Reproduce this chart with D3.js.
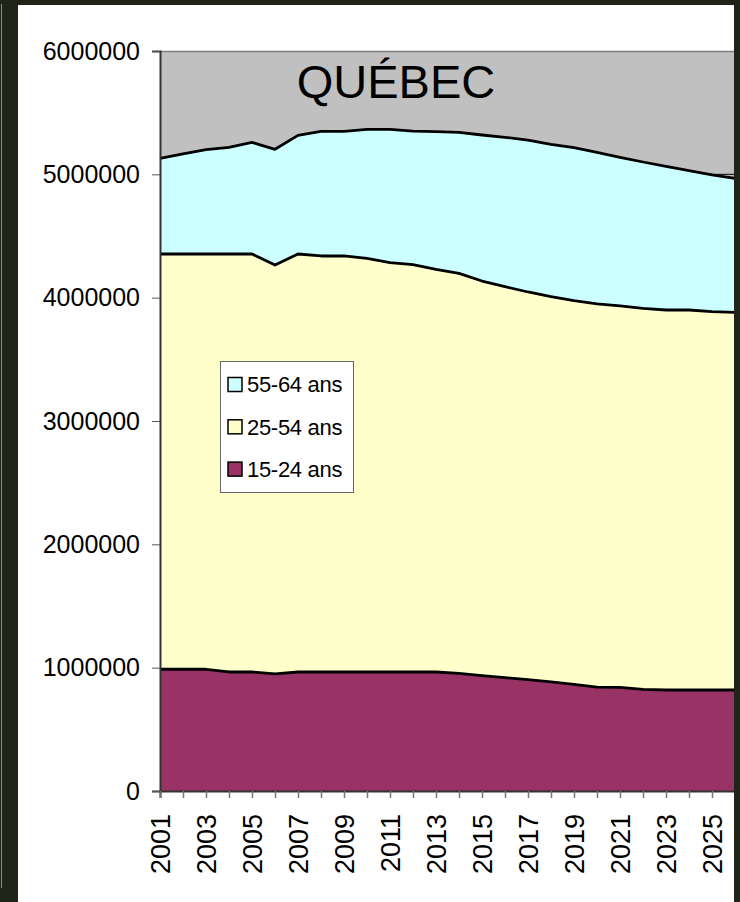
<!DOCTYPE html>
<html lang="fr">
<head>
<meta charset="utf-8">
<style>

body {
  margin: 0;
  background: #202419;
  font-family: Arial, "Liberation Sans", Helvetica, sans-serif;
}

svg {
  display: block;
}

.axis text {
  font-family: Arial, "Liberation Sans", sans-serif;
  fill: #000;
}

</style>
</head>
<body>
<script src="https://cdn.jsdelivr.net/npm/d3@7"></script>
<script>

var years = [2001, 2002, 2003, 2004, 2005, 2006, 2007, 2008, 2009, 2010, 2011, 2012, 2013,
             2014, 2015, 2016, 2017, 2018, 2019, 2020, 2021, 2022, 2023, 2024, 2025, 2026];

// 15-24 ans
var ans15_24 = [987000, 987000, 987000, 965000, 965000, 949000, 965000, 965000, 965000, 965000,
                965000, 965000, 965000, 954000, 935000, 919000, 903000, 884000, 865000, 843000,
                841000, 824000, 819000, 819000, 819000, 819000];

// 25-54 ans
var ans25_54 = [3367000, 3367000, 3367000, 3389000, 3389000, 3316000, 3389000, 3373000, 3373000, 3354000,
                3319000, 3303000, 3265000, 3243000, 3200000, 3170000, 3143000, 3124000, 3111000, 3106000,
                3092000, 3090000, 3081000, 3081000, 3068000, 3062000];

// 55-64 ans
var ans55_64 = [776000, 811000, 846000, 865000, 905000, 938000, 962000, 1011000, 1011000, 1046000,
                1081000, 1083000, 1116000, 1144000, 1184000, 1211000, 1232000, 1235000, 1240000, 1229000,
                1205000, 1186000, 1165000, 1130000, 1108000, 1087000];

var seriesNames = ["15-24 ans", "25-54 ans", "55-64 ans"];
var seriesColors = ["#993366", "#ffffcc", "#ccffff"];
var yTicks = [0, 1000000, 2000000, 3000000, 4000000, 5000000, 6000000];
var xLabels = [2001, 2003, 2005, 2007, 2009, 2011, 2013, 2015, 2017, 2019, 2021, 2023, 2025];

var width = 740,
    height = 902;

var plotLeft = 160, plotRight = 735, plotTop = 51, plotBottom = 791;

var table = years.map(function(y, i) {
    return {year: y, "15-24 ans": ans15_24[i], "25-54 ans": ans25_54[i], "55-64 ans": ans55_64[i]};
});

var x = d3.scaleLinear()
    .domain([years[0], years[years.length - 1]])
    .range([plotLeft, plotRight]);

var y = d3.scaleLinear()
    .domain([0, 6000000])
    .range([plotBottom, plotTop]);

var color = d3.scaleOrdinal()
    .domain(seriesNames)
    .range(seriesColors);

var stack = d3.stack().keys(seriesNames);
var layers = stack(table);

var svg = d3.select("body").append("svg")
    .attr("width", width)
    .attr("height", height);

// dark photo background + white panel
svg.append("rect")
    .attr("width", width).attr("height", height)
    .attr("fill", "#202419");
svg.append("line")
    .attr("x1", 1.5).attr("x2", 1.5).attr("y1", 4).attr("y2", 888)
    .attr("stroke", "#8a8a8a").attr("stroke-width", 1);
svg.append("rect")
    .attr("x", 18).attr("y", 5)
    .attr("width", 716).attr("height", height)
    .attr("fill", "#fff");

// plot background
svg.append("rect")
    .attr("x", plotLeft).attr("y", plotTop)
    .attr("width", plotRight - plotLeft).attr("height", plotBottom - plotTop)
    .attr("fill", "#c0c0c0");

// gridlines (under the areas)
svg.append("g").selectAll("line")
    .data(yTicks.slice(1, -1))
    .enter().append("line")
    .attr("x1", plotLeft).attr("x2", plotRight)
    .attr("y1", function(d) { return y(d); })
    .attr("y2", function(d) { return y(d); })
    .attr("stroke", "#000")
    .attr("stroke-width", 1);

var area = d3.area()
    .x(function(d) { return x(d.data.year); })
    .y0(function(d) { return y(d[0]); })
    .y1(function(d) { return y(d[1]); });

var topLine = d3.line()
    .x(function(d) { return x(d.data.year); })
    .y(function(d) { return y(d[1]); });

svg.append("g").selectAll("path")
    .data(layers)
    .enter().append("path")
    .attr("d", area)
    .attr("fill", function(d) { return color(d.key); });

svg.append("g").selectAll("path")
    .data(layers)
    .enter().append("path")
    .attr("d", topLine)
    .attr("fill", "none")
    .attr("stroke", "#000")
    .attr("stroke-width", 2.8)
    .attr("stroke-linejoin", "round");

// plot border top
svg.append("line")
    .attr("x1", plotLeft).attr("x2", plotRight)
    .attr("y1", plotTop + 0.5).attr("y2", plotTop + 0.5)
    .attr("stroke", "#808080").attr("stroke-width", 1.5);

// y axis
var yAxis = d3.axisLeft(y)
    .tickValues(yTicks)
    .tickSize(8)
    .tickPadding(12)
    .tickFormat(d3.format("d"));

var gy = svg.append("g")
    .attr("class", "axis")
    .attr("transform", "translate(" + plotLeft + ",0)")
    .call(yAxis);
gy.select(".domain").attr("stroke", "#333").attr("stroke-width", 2);
gy.selectAll(".tick line").attr("stroke", "#555");
gy.selectAll("text").style("font-size", "25px");

// x axis
var xAxis = d3.axisBottom(x)
    .tickValues(years)
    .tickSize(7)
    .tickFormat(function(d) { return xLabels.indexOf(d) >= 0 ? d : ""; });

var gx = svg.append("g")
    .attr("class", "axis")
    .attr("transform", "translate(0," + plotBottom + ")")
    .call(xAxis);
gx.select(".domain").attr("stroke", "#333").attr("stroke-width", 2);
gx.selectAll(".tick line").attr("stroke", "#777").attr("stroke-width", 1.5);
gx.selectAll("text")
    .style("font-size", "27px")
    .attr("text-anchor", "end")
    .attr("transform", "rotate(-90)")
    .attr("x", -23)
    .attr("y", 0)
    .attr("dy", "0.36em");

// title
svg.append("text")
    .attr("x", 396)
    .attr("y", 98)
    .attr("text-anchor", "middle")
    .style("font-size", "47px")
    .text("QUÉBEC");

// legend
var legend = svg.append("g")
    .attr("transform", "translate(220,361)");

legend.append("rect")
    .attr("x", 0.5).attr("y", 0.5)
    .attr("width", 133).attr("height", 131)
    .attr("fill", "#fff")
    .attr("stroke", "#666")
    .attr("stroke-width", 1);

var legendOrder = seriesNames.slice().reverse();

var item = legend.selectAll(".item")
    .data(legendOrder)
    .enter().append("g")
    .attr("class", "item")
    .attr("transform", function(d, i) { return "translate(0," + (23.5 + i * 42.3) + ")"; });

item.append("rect")
    .attr("x", 8).attr("y", -7)
    .attr("width", 14).attr("height", 14)
    .attr("fill", function(d) { return color(d); })
    .attr("stroke", "#000")
    .attr("stroke-width", 1.5);

item.append("text")
    .attr("x", 27)
    .attr("dy", "0.35em")
    .style("font-size", "22px")
    .style("letter-spacing", "-0.3px")
    .text(function(d) { return d; });

// right edge of panel (dark frame)
svg.append("rect")
    .attr("x", 734).attr("y", 0)
    .attr("width", 6).attr("height", height)
    .attr("fill", "#202419");

</script>
</body>
</html>
